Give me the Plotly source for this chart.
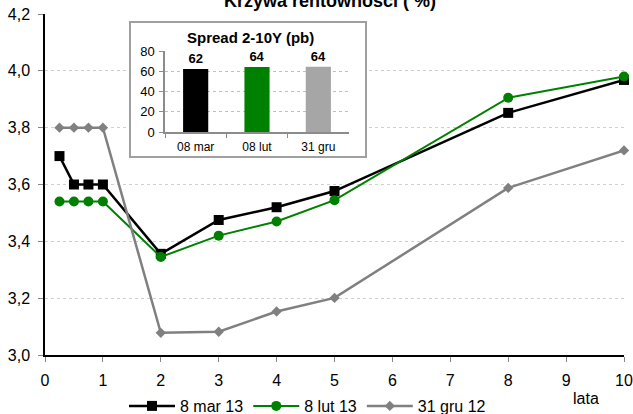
import plotly.graph_objects as go

# ---- data ----
maturities = [0.25, 0.5, 0.75, 1, 2, 3, 4, 5, 8, 10]
mar13 = [3.70, 3.60, 3.60, 3.60, 3.356, 3.475, 3.52, 3.577, 3.852, 3.968]
lut13 = [3.54, 3.54, 3.54, 3.54, 3.345, 3.42, 3.47, 3.545, 3.905, 3.98]
gru12 = [3.80, 3.80, 3.80, 3.80, 3.078, 3.082, 3.153, 3.201, 3.588, 3.72]
series_names = ["8 mar 13", "8 lut 13", "31 gru 12"]

spread_cats = ["08 mar", "08 lut", "31 gru"]
spread_vals = [62.2, 64.2, 64.4]

x_ticks = list(range(0, 11))
y_ticks = [3.0, 3.2, 3.4, 3.6, 3.8, 4.0, 4.2]
inset_ticks = [0, 20, 40, 60, 80]

FONT = "Liberation Sans, Arial, sans-serif"
W, H = 633, 414

def px_x(p):
    return p / W

def px_y(p):
    return (H - p) / H

fig = go.Figure()

fig.add_trace(go.Scatter(
    x=maturities, y=mar13, name=series_names[0], mode="lines+markers",
    line=dict(color="#000000", width=2.5),
    marker=dict(symbol="square", size=10, color="#000000"),
    cliponaxis=False))
fig.add_trace(go.Scatter(
    x=maturities, y=lut13, name=series_names[1], mode="lines+markers",
    line=dict(color="#008000", width=2),
    marker=dict(symbol="circle", size=10, color="#008000"),
    cliponaxis=False))
fig.add_trace(go.Scatter(
    x=maturities, y=gru12, name=series_names[2], mode="lines+markers",
    line=dict(color="#808080", width=2.5),
    marker=dict(symbol="diamond", size=8, color="#808080"),
    cliponaxis=False))

fig.add_trace(go.Bar(
    x=spread_cats, y=spread_vals, xaxis="x2", yaxis="y2",
    marker=dict(color=["#000000", "#008000", "#a6a6a6"], line=dict(width=0)),
    width=0.41, showlegend=False,
    texttemplate="%{y:.0f}", textposition="outside",
    textfont=dict(family=FONT, size=13, color="#000000", weight="bold"),
    cliponaxis=False, hoverinfo="skip"))

fig.update_layout(
    width=W, height=H,
    margin=dict(l=0, r=0, t=0, b=0, autoexpand=False),
    paper_bgcolor="white", plot_bgcolor="white",
    separators=", ",
    font=dict(family=FONT, size=16, color="#000000"),
    xaxis=dict(
        domain=[px_x(45), px_x(624)], range=[0, 10],
        tickvals=x_ticks, showgrid=False, zeroline=False, automargin=False,
        showline=True, linecolor="#000000", linewidth=1.5,
        ticks="outside", ticklen=5, tickcolor="#888888",
        ticklabelstandoff=5,
        tickfont=dict(size=16)),
    yaxis=dict(
        domain=[px_y(355), px_y(14)], range=[3.0, 4.2],
        tickvals=y_ticks, tickformat=".1f", automargin=False,
        showgrid=True, gridcolor="#d0d0d0", griddash="dot", gridwidth=1,
        zeroline=False,
        showline=True, linecolor="#000000", linewidth=1.5,
        ticks="outside", ticklen=5, tickcolor="#888888",
        ticklabelstandoff=5,
        tickfont=dict(size=16)),
    xaxis2=dict(
        domain=[px_x(165), px_x(349)], anchor="y2", automargin=False,
        type="category", showgrid=False, zeroline=False,
        showline=True, linecolor="#8c8c8c", linewidth=1.5,
        ticks="outside", tickson="boundaries", ticklen=4, tickcolor="#8c8c8c",
        tickfont=dict(size=12), ticklabelstandoff=3),
    yaxis2=dict(
        domain=[px_y(132), px_y(51)], anchor="x2", range=[0, 80], automargin=False,
        tickvals=inset_ticks,
        showgrid=True, gridcolor="#c0c0c0", griddash="dot", gridwidth=1,
        zeroline=False,
        showline=True, linecolor="#8c8c8c", linewidth=1.5,
        ticks="outside", ticklen=4, tickcolor="#8c8c8c",
        tickfont=dict(size=13), ticklabelstandoff=2),
    legend=dict(
        orientation="h", x=px_x(124), xanchor="left", y=px_y(406), yanchor="middle",
        font=dict(size=16), bgcolor="rgba(0,0,0,0)", itemwidth=46,
        tracegroupgap=0),
    showlegend=True,
)

# inset frame (above main grid, below traces)
fig.add_shape(
    type="rect", xref="x", yref="y",
    x0=(130 - 45) / 57.9, x1=(366 - 45) / 57.9,
    y0=3.0 + (355 - 157) / 284.17, y1=3.0 + (355 - 22) / 284.17,
    fillcolor="white", line=dict(color="#a0a0a0", width=2), layer="between")

fig.add_annotation(
    text="<b>Krzywa rentowności ( %)</b>", xref="paper", yref="paper",
    x=px_x(330), y=px_y(1), xanchor="center", yanchor="middle",
    showarrow=False, font=dict(size=18))
fig.add_annotation(
    text="<b>Spread 2-10Y (pb)</b>", xref="paper", yref="paper",
    x=px_x(250), y=px_y(38), xanchor="center", yanchor="middle",
    showarrow=False, font=dict(size=15))
fig.add_annotation(
    text="lata", xref="paper", yref="paper",
    x=px_x(586), y=px_y(398), xanchor="center", yanchor="middle",
    showarrow=False, font=dict(size=16))

fig.write_html("out.html", config={"displayModeBar": False},
               post_script="document.body.style.margin='0';")
